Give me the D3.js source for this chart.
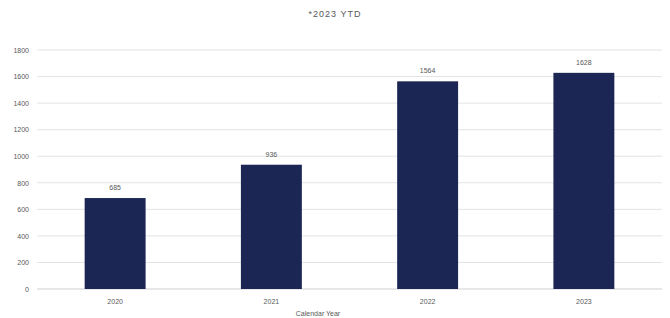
<!DOCTYPE html>
<html>
<head>
<meta charset="utf-8">
<script src="https://cdn.jsdelivr.net/npm/d3@7"></script>
<style>
  body { margin: 0; background: #fff; }
  text { font-family: "Liberation Sans", Arial, sans-serif; fill: #595959; }
</style>
</head>
<body>
<script>
  var years = ["2020", "2021", "2022", "2023"];
  var counts = [685, 936, 1564, 1628];
  var yTicks = [0, 200, 400, 600, 800, 1000, 1200, 1400, 1600, 1800];

  var W = 670, H = 318;
  var margin = {top: 50, right: 8, bottom: 29, left: 37};

  var svg = d3.select("body").append("svg").attr("width", W).attr("height", H);

  var x = d3.scaleBand().domain(years)
    .range([margin.left, W - margin.right])
    .paddingInner(0.61).paddingOuter(0.305);
  var y = d3.scaleLinear().domain([0, 1800]).range([H - margin.bottom, margin.top]);

  // grid
  svg.append("g").selectAll("line").data(yTicks).enter().append("line")
    .attr("x1", margin.left).attr("x2", W - margin.right)
    .attr("y1", function(d){ return y(d); }).attr("y2", function(d){ return y(d); })
    .attr("stroke", function(d){ return d == 0 ? "#cfcfcf" : "#e3e3e3"; })
    .attr("stroke-width", 1);

  // y axis labels
  var yAxis = d3.axisLeft(y).tickValues(yTicks).tickFormat(d3.format("d")).tickSize(0).tickPadding(8);
  var gy = svg.append("g").attr("transform", "translate(" + margin.left + ",0)").call(yAxis);
  gy.select(".domain").remove();
  gy.selectAll("text").style("font-size", "7px").attr("fill", "#8a8a8a");

  // x axis labels
  var xAxis = d3.axisBottom(x).tickSize(0).tickPadding(10);
  var gx = svg.append("g").attr("transform", "translate(0," + (H - margin.bottom) + ")").call(xAxis);
  gx.select(".domain").remove();
  gx.selectAll("text").style("font-size", "7px").attr("fill", "#8a8a8a");

  // bars
  svg.selectAll("rect.bar").data(counts).enter().append("rect")
    .attr("class", "bar")
    .attr("x", function(d, i){ return x(years[i]); })
    .attr("y", function(d){ return y(d); })
    .attr("width", x.bandwidth())
    .attr("height", function(d){ return y(0) - y(d); })
    .attr("fill", "#1c2654");

  // value labels
  svg.selectAll("text.val").data(counts).enter().append("text")
    .attr("class", "val")
    .attr("x", function(d, i){ return x(years[i]) + x.bandwidth() / 2; })
    .attr("y", function(d){ return y(d) - 8; })
    .style("text-anchor", "middle")
    .style("font-size", "7px")
    .attr("fill", "#8a8a8a")
    .text(function(d){ return d; });

  // title
  svg.append("text")
    .attr("x", 335).attr("y", 17)
    .style("text-anchor", "middle")
    .style("font-size", "9px")
    .style("letter-spacing", "1px")
    .attr("fill", "#6a6a6a")
    .text("*2023 YTD");

  // axis title
  svg.append("text")
    .attr("x", 318).attr("y", 316)
    .style("text-anchor", "middle")
    .style("font-size", "7px")
    .attr("fill", "#a0a0a0")
    .text("Calendar Year");
</script>
</body>
</html>
